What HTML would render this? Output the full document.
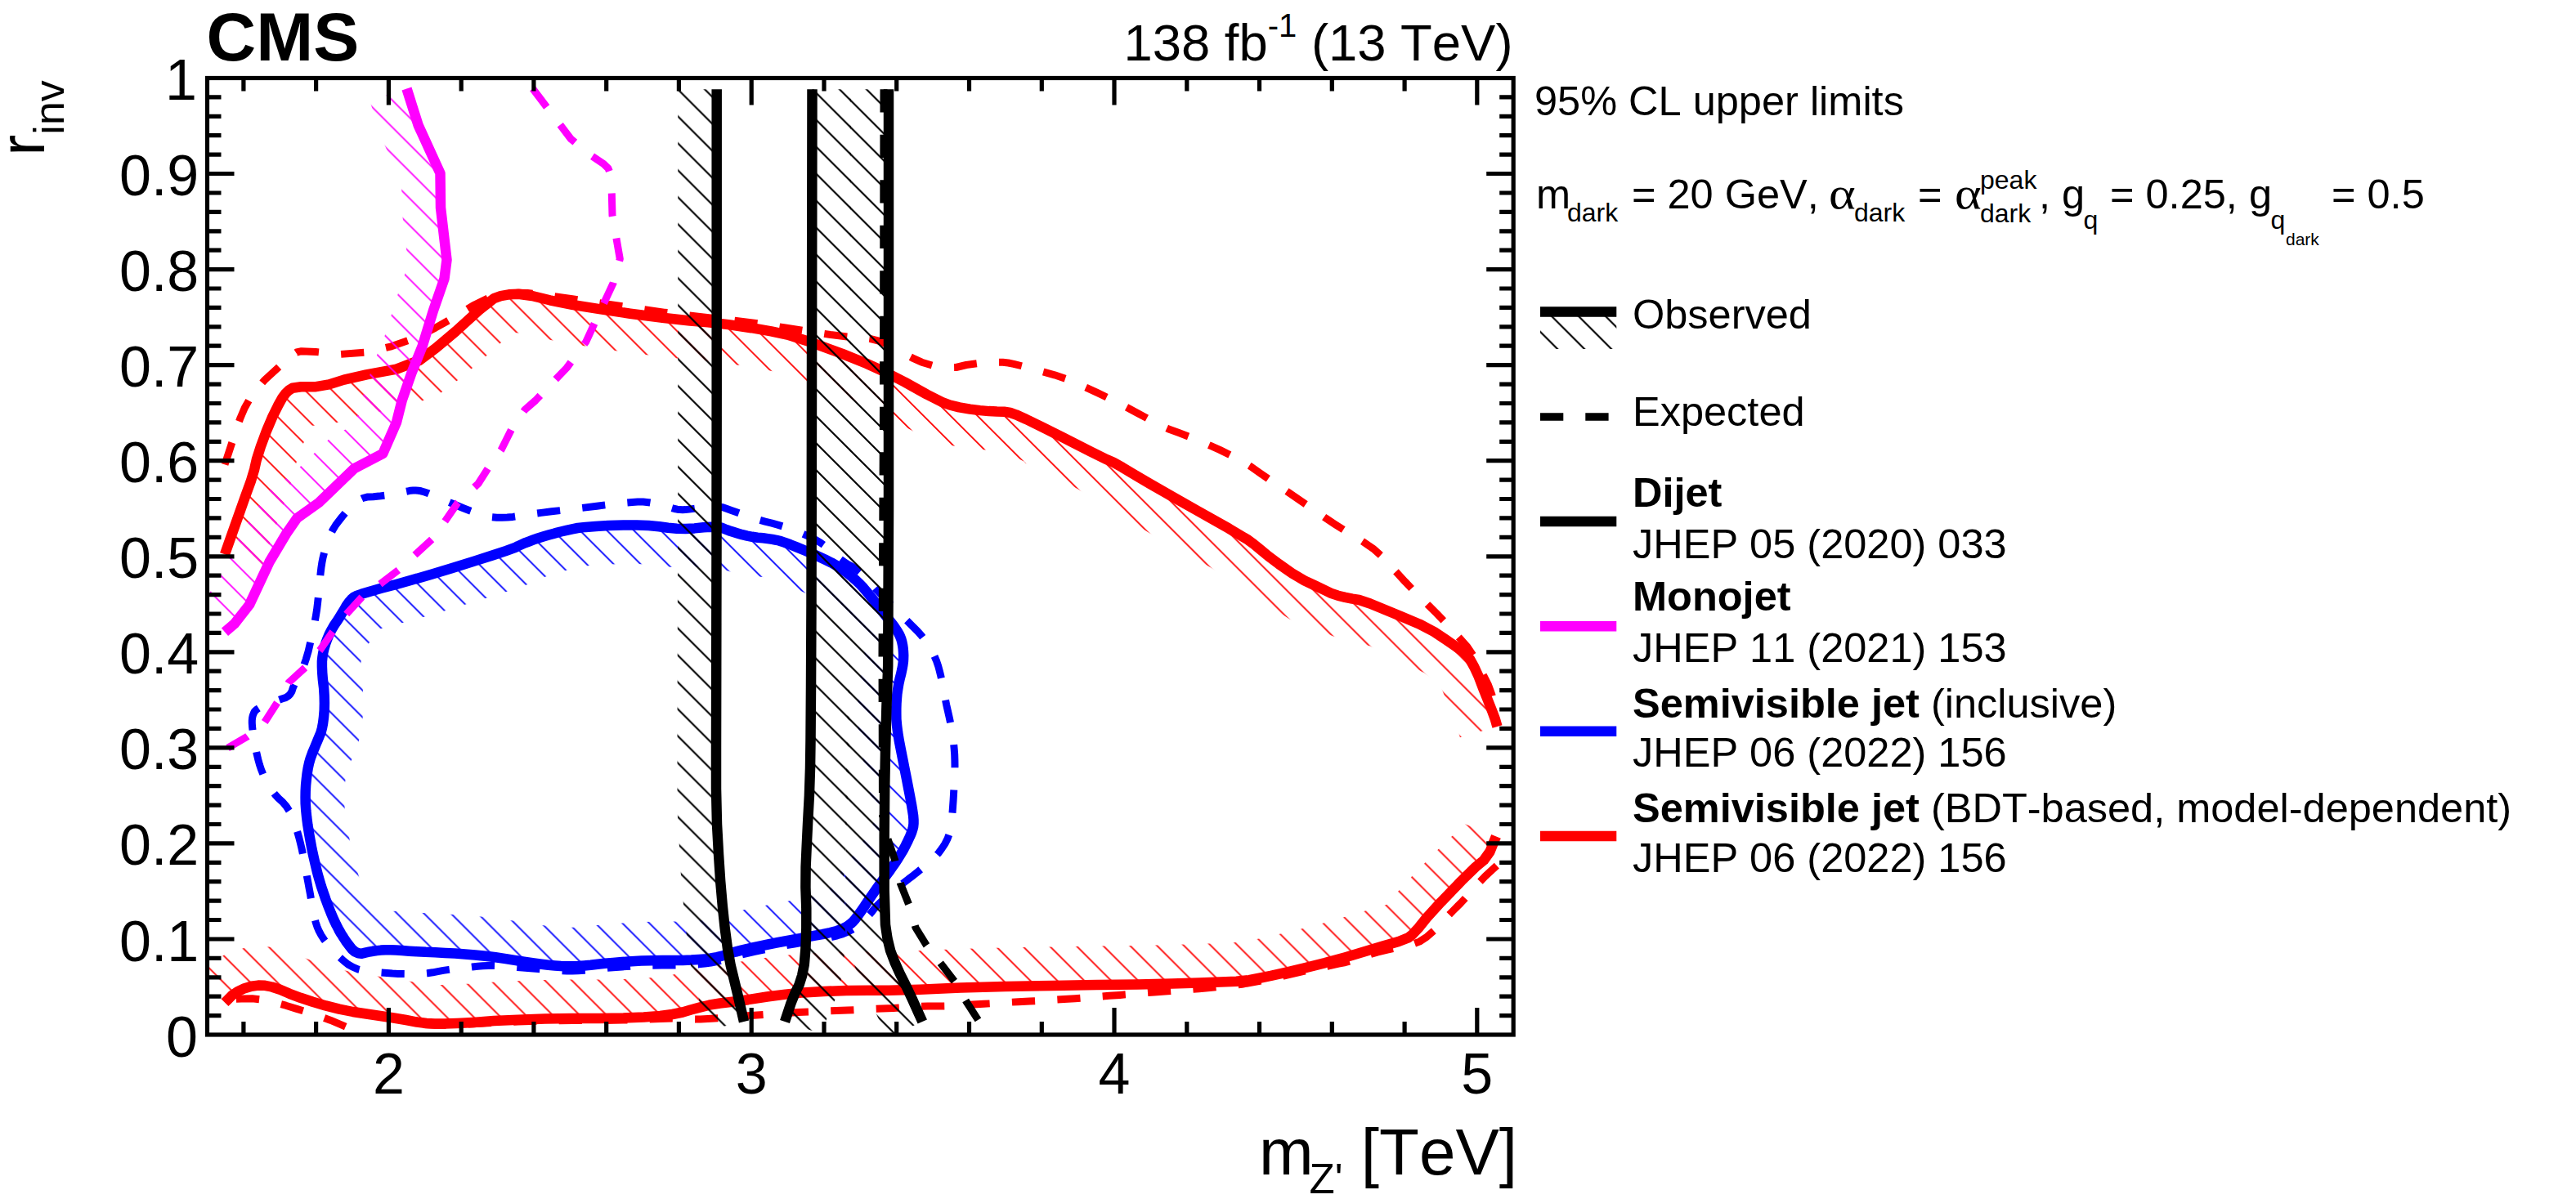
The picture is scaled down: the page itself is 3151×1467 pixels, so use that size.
<!DOCTYPE html>
<html><head><meta charset="utf-8"><title>CMS semivisible jet limits</title>
<style>html,body{margin:0;padding:0;background:#fff}svg{display:block}text{font-family:"Liberation Sans",sans-serif;fill:#000;font-kerning:none;font-variant-ligatures:none}.b{font-weight:bold}.sy{font-family:"Liberation Serif",serif}</style></head><body>
<svg width="3151" height="1467" viewBox="0 0 3151 1467">
<defs>
<pattern id="hk" patternUnits="userSpaceOnUse" x="0" y="5.50" width="32.97" height="32.97"><path d="M-4 -4 L36.97 36.97 M-4 28.97 L4 36.97 M28.97 -4 L36.97 4" stroke="#000" stroke-width="2.15" fill="none"/></pattern>
<pattern id="hr" patternUnits="userSpaceOnUse" x="0" y="5.50" width="32.97" height="32.97"><path d="M-4 -4 L36.97 36.97 M-4 28.97 L4 36.97 M28.97 -4 L36.97 4" stroke="#f00" stroke-width="1.8" fill="none"/></pattern>
<pattern id="hb" patternUnits="userSpaceOnUse" x="0" y="5.50" width="32.97" height="32.97"><path d="M-4 -4 L36.97 36.97 M-4 28.97 L4 36.97 M28.97 -4 L36.97 4" stroke="#00f" stroke-width="1.8" fill="none"/></pattern>
<pattern id="hm" patternUnits="userSpaceOnUse" x="0" y="5.50" width="32.97" height="32.97"><path d="M-4 -4 L36.97 36.97 M-4 28.97 L4 36.97 M28.97 -4 L36.97 4" stroke="#f0f" stroke-width="1.8" fill="none"/></pattern>
<clipPath id="fr"><rect x="253.5" y="95.5" width="1597.7" height="1170.5"/></clipPath>
</defs>
<rect width="3151" height="1467" fill="#fff"/>
<g clip-path="url(#fr)" fill="none" stroke-linejoin="round">
<path d="M433.3 510.5 L457.9 504.9 L497.9 497.6 L536.5 482.8 L562.9 463.0 L588.8 441.1 L616.5 415.9 L626.7 407.9 L628.3 407.6 L632.3 407.3 L641.8 408.7 L662.2 413.7 L691.5 419.5 L726.1 425.2 L764.4 430.7 L806.8 436.2 L839.7 439.8 L861.3 441.5 L884.7 444.2 L911.7 448.1 L934.4 452.1 L951.2 455.6 L976.8 463.7 L1013.1 477.2 L1041.6 488.7 L1061.6 497.8 L1084.3 509.4 L1111.2 524.4 L1132.8 535.4 L1147.7 540.9 L1163.6 544.9 L1179.7 547.6 L1193.7 549.4 L1206.3 550.4 L1217.7 551.1 L1223.9 551.2 L1224.2 551.2 L1225.0 551.5 L1235.1 556.1 L1252.9 564.7 L1253.9 565.2 L1253.3 566.0 L1318.3 598.3 L1405.3 651.7 L1481.2 694.4 L1577.3 757.4 L1631.5 778.7 L1675.9 790.6 L1742.0 823.2 L1760.6 837.1 L1760.9 837.5 L1765.0 846.6 L1770.0 859.5 L1775.6 873.6 L1780.8 886.9 L1783.7 894.8 L1785.9 902.3 L1831.5 889.0 L1830.6 886.0 L1828.9 880.0 L1825.2 870.0 L1819.8 856.2 L1814.2 842.2 L1808.8 828.0 L1803.3 816.1 L1797.9 806.4 L1794.5 802.5 L1795.2 801.5 L1790.6 798.1 L1781.3 791.4 L1776.7 788.0 L1769.2 783.0 L1754.2 773.0 L1746.7 768.0 L1735.9 763.4 L1725.0 758.9 L1714.1 754.3 L1703.3 749.7 L1694.1 746.0 L1685.0 742.2 L1675.9 738.5 L1666.7 734.7 L1662.5 734.0 L1658.3 733.4 L1654.2 732.7 L1645.5 730.9 L1641.0 729.8 L1636.5 728.7 L1628.2 725.8 L1624.3 724.0 L1620.5 722.1 L1616.7 720.3 L1609.7 717.0 L1602.7 713.6 L1595.6 710.3 L1580.4 701.3 L1572.3 695.6 L1564.2 690.0 L1551.2 680.2 L1546.3 676.1 L1541.4 672.1 L1536.6 668.0 L1533.3 665.5 L1530.0 663.1 L1526.8 660.7 L1523.5 658.2 L1503.5 646.8 L1483.4 635.5 L1463.3 624.1 L1443.3 612.7 L1430.8 605.7 L1418.4 598.6 L1405.9 591.5 L1386.6 580.2 L1379.7 576.0 L1372.8 571.8 L1366.0 567.5 L1362.0 565.8 L1358.0 564.0 L1354.0 562.3 L1333.3 552.1 L1316.6 543.7 L1300.0 535.2 L1283.3 526.7 L1283.2 526.8 L1274.0 522.2 L1255.3 513.0 L1242.6 507.3 L1235.9 505.0 L1228.1 503.7 L1219.4 503.6 L1209.6 503.1 L1198.7 502.1 L1186.6 500.6 L1173.4 498.4 L1161.8 495.5 L1151.9 491.8 L1133.6 482.5 L1106.7 467.5 L1082.3 455.0 L1060.3 445.0 L1030.3 432.9 L992.3 418.8 L963.3 409.6 L943.3 405.4 L919.1 401.2 L890.9 397.1 L865.9 394.2 L844.1 392.5 L812.5 389.0 L770.8 383.7 L733.3 378.2 L700.0 372.8 L672.5 367.3 L650.8 362.0 L634.2 359.7 L622.5 360.3 L612.5 362.2 L604.2 365.2 L585.8 379.6 L557.5 405.4 L533.3 425.8 L513.3 440.8 L485.0 451.7 L448.3 458.3 L420.8 464.6 L402.5 470.4 L385.0 473.3 L368.3 473.3 L357.8 474.7 L353.2 477.6 L349.1 481.7 L345.2 487.0 L340.0 496.4 L333.3 510.0 L326.2 526.7 L318.8 546.7 L313.8 562.5 L311.2 574.2 L306.7 589.2 L300.0 607.5 L291.3 632.1 L280.4 662.9 L275.0 678.3 L319.8 694.1 L325.2 678.7 L336.0 648.0 L344.7 623.6 L351.8 604.2 L357.3 586.1 L359.7 574.7 L363.7 562.2 L370.4 544.3 L376.5 529.7 L380.9 520.8 L388.9 520.8 L413.6 516.7 Z" fill="url(#hr)" fill-rule="evenodd" stroke="none"/>
<path d="M277.9 1223.8 L283.8 1217.9 L290.8 1213.1 L299.2 1209.2 L307.5 1206.7 L315.8 1205.6 L324.2 1205.8 L332.5 1207.5 L342.5 1210.8 L354.2 1215.8 L367.5 1220.8 L382.5 1225.8 L398.3 1230.4 L415.0 1234.6 L431.7 1238.0 L448.3 1240.5 L465.0 1243.0 L481.7 1245.5 L496.7 1248.0 L510.0 1250.5 L521.7 1252.0 L531.7 1252.5 L544.2 1252.5 L559.2 1252.0 L579.2 1250.9 L604.2 1249.1 L633.4 1247.7 L666.6 1246.6 L700.0 1246.0 L733.3 1246.0 L762.5 1245.5 L787.5 1244.5 L807.5 1243.0 L822.5 1241.0 L835.0 1238.5 L845.0 1235.5 L855.8 1232.6 L867.5 1229.7 L880.8 1227.5 L895.8 1225.8 L915.0 1223.2 L938.3 1219.5 L960.8 1216.6 L982.5 1214.4 L1007.3 1212.9 L1035.3 1212.1 L1062.0 1211.7 L1087.3 1211.7 L1125.0 1210.7 L1175.0 1208.5 L1229.2 1207.0 L1287.5 1206.0 L1341.7 1205.1 L1391.7 1204.4 L1433.4 1203.5 L1466.6 1202.5 L1493.0 1201.5 L1512.3 1200.7 L1527.8 1199.2 L1539.2 1197.0 L1554.6 1193.9 L1573.7 1189.6 L1595.8 1184.4 L1620.8 1178.1 L1645.8 1171.2 L1670.8 1163.8 L1692.5 1157.3 L1710.8 1152.0 L1722.5 1147.4 L1727.5 1143.6 L1735.0 1135.5 L1745.0 1123.0 L1762.5 1103.8 L1787.5 1077.9 L1805.0 1060.8 L1815.0 1052.5 L1822.5 1042.0 L1827.5 1029.5 L1830.0 1023.3 L1785.9 1005.7 L1780.6 1019.0 L1779.9 1019.9 L1773.1 1025.6 L1753.8 1044.4 L1727.9 1071.2 L1708.9 1092.1 L1698.9 1104.5 L1697.3 1106.3 L1695.5 1107.0 L1679.1 1111.8 L1657.2 1118.2 L1632.7 1125.6 L1608.7 1132.2 L1584.5 1138.2 L1563.1 1143.3 L1544.6 1147.4 L1530.2 1150.4 L1521.2 1152.1 L1508.9 1153.3 L1491.0 1154.1 L1465.1 1155.0 L1432.1 1156.0 L1390.8 1156.9 L1341.0 1157.6 L1286.8 1158.5 L1228.1 1159.5 L1173.3 1161.1 L1123.3 1163.2 L1086.7 1164.2 L1061.6 1164.2 L1034.3 1164.6 L1005.2 1165.4 L978.6 1167.0 L955.4 1169.4 L931.6 1172.5 L908.1 1176.2 L890.0 1178.7 L874.2 1180.4 L857.9 1183.2 L844.0 1186.6 L832.0 1189.8 L823.5 1192.4 L814.7 1194.1 L802.6 1195.7 L784.8 1197.1 L761.1 1198.0 L732.9 1198.5 L699.6 1198.5 L665.4 1199.1 L631.4 1200.3 L601.4 1201.7 L576.3 1203.4 L557.1 1204.5 L543.4 1205.0 L532.9 1205.0 L525.9 1204.6 L517.4 1203.5 L505.0 1201.2 L489.1 1198.5 L472.1 1196.0 L455.4 1193.5 L439.8 1191.1 L425.5 1188.3 L410.8 1184.6 L396.6 1180.4 L383.4 1176.0 L371.9 1171.7 L359.4 1166.4 L344.7 1161.5 L329.5 1158.5 L313.3 1158.0 L297.3 1160.2 L282.2 1164.7 L267.3 1171.7 L253.5 1181.1 L253.5 1205.2 L275.0 1226.7 Z" fill="url(#hr)" fill-rule="evenodd" stroke="none"/>
<path d="M275.0 568.3 L277.1 562.0 L281.2 549.5 L285.4 536.6 L289.6 523.4 L294.2 510.9 L299.2 499.2 L305.8 487.5 L314.2 475.8 L323.7 465.0 L334.6 455.0 L345.0 445.4 L355.0 436.3 L362.9 431.0 L368.8 429.7 L386.3 430.5 L415.4 433.5 L446.2 431.2 L478.8 423.8 L507.5 413.8 L532.5 401.2 L556.2 387.9 L578.8 373.8 L596.7 364.9 L610.0 361.3 L622.5 359.1 L634.2 358.2 L645.2 358.5 L655.8 359.8 L666.6 361.2 L677.7 362.6 L700.0 365.8 L733.3 370.8 L770.8 376.2 L812.2 382.1 L853.9 387.2 L895.8 391.8 L930.8 396.2 L958.9 400.8 L987.2 405.2 L1015.8 409.5 L1037.5 412.1 L1052.5 412.9 L1065.0 414.6 L1075.0 417.1 L1087.5 422.5 L1102.5 430.8 L1115.8 437.8 L1127.5 443.2 L1140.8 447.2 L1155.8 449.8 L1169.5 449.5 L1182.0 446.5 L1195.4 444.6 L1209.6 443.7 L1220.0 443.3 L1226.7 443.3 L1233.3 444.0 L1240.0 445.3 L1250.0 447.8 L1263.3 451.5 L1276.7 455.2 L1290.0 458.8 L1303.4 463.4 L1316.6 468.9 L1329.5 474.6 L1342.0 480.4 L1354.1 486.2 L1365.9 492.1 L1378.0 498.3 L1390.5 505.0 L1403.4 511.9 L1416.6 519.1 L1429.5 525.0 L1442.0 529.5 L1455.0 534.5 L1468.3 540.0 L1480.8 545.4 L1492.5 550.6 L1505.0 556.8 L1518.3 563.8 L1530.4 571.1 L1541.3 578.9 L1552.5 586.6 L1564.2 594.4 L1575.4 602.0 L1586.3 609.5 L1598.0 617.6 L1610.5 626.4 L1622.1 634.3 L1632.9 641.4 L1644.5 648.8 L1657.0 656.2 L1668.7 663.8 L1679.6 671.2 L1690.0 680.4 L1700.0 691.3 L1709.6 701.7 L1718.7 711.7 L1728.3 721.7 L1738.3 731.7 L1747.9 741.3 L1757.1 750.4 L1766.7 760.4 L1776.7 771.3 L1785.9 781.3 L1794.1 790.4 L1802.0 802.0 L1809.3 816.0 L1815.5 828.0 L1820.5 838.0 L1824.8 849.8 L1828.2 863.2 L1830.0 870.0" stroke="#f00" stroke-width="9.0" stroke-dasharray="28.2 27.3" stroke-dashoffset="0.0"/>
<path d="M289.0 1222.2 L295.5 1222.1 L308.5 1221.8 L322.1 1223.4 L336.2 1226.6 L349.6 1230.2 L362.1 1234.1 L375.4 1238.2 L389.6 1242.8 L404.0 1248.2 L418.7 1254.4 L426.0 1257.6" stroke="#f00" stroke-width="9.0" stroke-dasharray="28.2 27.3" stroke-dashoffset="0.0"/>
<path d="M517.3 1253.5 L522.1 1253.8 L531.9 1254.2 L544.2 1254.2 L559.2 1253.8 L579.2 1252.8 L604.2 1251.2 L633.4 1250.0 L666.6 1249.0 L700.0 1248.5 L733.3 1248.5 L762.5 1248.1 L787.5 1247.4 L807.5 1246.6 L822.5 1245.9 L835.0 1246.0 L845.0 1246.8 L856.7 1247.0 L870.0 1246.3 L883.4 1245.3 L896.6 1244.0 L910.8 1242.9 L925.8 1242.1 L940.8 1241.1 L955.8 1239.9 L976.6 1238.6 L1003.4 1237.4 L1023.4 1236.5 L1036.6 1236.0 L1050.4 1235.4 L1064.6 1234.6 L1078.8 1234.0 L1092.9 1233.5 L1107.1 1232.6 L1121.2 1231.4 L1135.0 1230.9 L1148.3 1231.1 L1162.1 1230.8 L1176.2 1229.8 L1190.0 1229.0 L1203.3 1228.3 L1217.1 1227.5 L1231.2 1226.5 L1245.4 1225.7 L1259.6 1225.0 L1273.8 1224.3 L1287.9 1223.4 L1301.7 1222.6 L1315.0 1221.7 L1328.8 1220.6 L1342.9 1219.4 L1356.7 1218.3 L1370.0 1217.4 L1383.8 1216.3 L1397.9 1215.0 L1411.7 1213.9 L1425.0 1213.1 L1438.8 1212.1 L1452.9 1210.9 L1466.7 1209.7 L1480.0 1208.6 L1497.5 1206.8 L1519.2 1204.2 L1543.3 1200.0 L1570.0 1194.0 L1595.8 1188.2 L1620.8 1182.8 L1637.5 1179.2 L1645.8 1177.5 L1657.1 1174.2 L1671.2 1169.2 L1684.5 1165.2 L1697.0 1162.2 L1710.4 1159.3 L1724.6 1156.4 L1736.3 1152.1 L1745.4 1146.2 L1755.4 1137.5 L1766.3 1125.8 L1776.7 1115.0 L1786.7 1105.0 L1796.7 1094.2 L1806.7 1082.5 L1816.7 1072.1 L1826.7 1062.9 L1831.7 1058.3" stroke="#f00" stroke-width="9.0" stroke-dasharray="28.2 27.3" stroke-dashoffset="0.0"/>
<path d="M275.0 678.3 L280.4 662.9 L291.3 632.1 L300.0 607.5 L306.7 589.2 L311.2 574.2 L313.8 562.5 L318.8 546.7 L326.2 526.7 L333.3 510.0 L340.0 496.4 L345.2 487.0 L349.1 481.7 L353.2 477.6 L357.8 474.7 L368.3 473.3 L385.0 473.3 L402.5 470.4 L420.8 464.6 L448.3 458.3 L485.0 451.7 L513.3 440.8 L533.3 425.8 L557.5 405.4 L585.8 379.6 L604.2 365.2 L612.5 362.2 L622.5 360.3 L634.2 359.7 L650.8 362.0 L672.5 367.3 L700.0 372.8 L733.3 378.2 L770.8 383.7 L812.5 389.0 L844.1 392.5 L865.9 394.2 L890.9 397.1 L919.1 401.2 L943.3 405.4 L963.3 409.6 L992.3 418.8 L1030.3 432.9 L1060.3 445.0 L1082.3 455.0 L1106.7 467.5 L1133.6 482.5 L1151.9 491.8 L1161.8 495.5 L1173.4 498.4 L1186.6 500.6 L1198.7 502.1 L1209.6 503.1 L1219.4 503.6 L1228.1 503.7 L1235.9 505.0 L1242.6 507.3 L1255.3 513.0 L1274.0 522.2 L1300.0 535.2 L1333.3 552.1 L1354.0 562.3 L1362.0 565.8 L1372.8 571.8 L1386.6 580.2 L1405.9 591.5 L1430.8 605.7 L1463.3 624.1 L1503.5 646.8 L1526.8 660.7 L1533.3 665.5 L1541.4 672.1 L1551.2 680.2 L1564.2 690.0 L1580.4 701.3 L1595.6 710.3 L1609.7 717.0 L1620.5 722.1 L1628.2 725.8 L1636.5 728.7 L1645.5 730.9 L1654.2 732.7 L1662.5 734.0 L1675.9 738.5 L1694.1 746.0 L1714.1 754.3 L1735.9 763.4 L1754.2 773.0 L1769.2 783.0 L1781.3 791.4 L1790.6 798.1 L1797.9 806.4 L1803.3 816.1 L1808.8 828.0 L1814.2 842.2 L1819.8 856.2 L1825.2 870.0 L1828.9 880.0 L1830.6 886.0 L1831.5 889.0" stroke="#f00" stroke-width="12.5"/>
<path d="M275.0 1226.7 L277.9 1223.8 L283.8 1217.9 L290.8 1213.1 L299.2 1209.2 L307.5 1206.7 L315.8 1205.6 L324.2 1205.8 L332.5 1207.5 L342.5 1210.8 L354.2 1215.8 L367.5 1220.8 L382.5 1225.8 L398.3 1230.4 L415.0 1234.6 L431.7 1238.0 L448.3 1240.5 L465.0 1243.0 L481.7 1245.5 L496.7 1248.0 L510.0 1250.5 L521.7 1252.0 L531.7 1252.5 L544.2 1252.5 L559.2 1252.0 L579.2 1250.9 L604.2 1249.1 L633.4 1247.7 L666.6 1246.6 L700.0 1246.0 L733.3 1246.0 L762.5 1245.5 L787.5 1244.5 L807.5 1243.0 L822.5 1241.0 L835.0 1238.5 L845.0 1235.5 L855.8 1232.6 L867.5 1229.7 L880.8 1227.5 L895.8 1225.8 L915.0 1223.2 L938.3 1219.5 L960.8 1216.6 L982.5 1214.4 L1007.3 1212.9 L1035.3 1212.1 L1062.0 1211.7 L1087.3 1211.7 L1125.0 1210.7 L1175.0 1208.5 L1229.2 1207.0 L1287.5 1206.0 L1341.7 1205.1 L1391.7 1204.4 L1433.4 1203.5 L1466.6 1202.5 L1493.0 1201.5 L1512.3 1200.7 L1527.8 1199.2 L1539.2 1197.0 L1554.6 1193.9 L1573.7 1189.6 L1595.8 1184.4 L1620.8 1178.1 L1645.8 1171.2 L1670.8 1163.8 L1692.5 1157.3 L1710.8 1152.0 L1722.5 1147.4 L1727.5 1143.6 L1735.0 1135.5 L1745.0 1123.0 L1762.5 1103.8 L1787.5 1077.9 L1805.0 1060.8 L1815.0 1052.5 L1822.5 1042.0 L1827.5 1029.5 L1830.0 1023.3" stroke="#f00" stroke-width="12.5"/>
<path d="M374.3 991.7 L375.2 1000.4 L376.4 1009.6 L377.9 1018.9 L379.6 1028.5 L381.4 1038.3 L383.6 1048.3 L385.8 1057.9 L388.0 1067.1 L390.4 1075.8 L392.9 1084.2 L395.7 1092.5 L398.6 1100.9 L401.7 1109.2 L405.0 1117.5 L408.2 1125.0 L411.4 1131.7 L414.4 1137.5 L417.3 1142.5 L420.4 1147.4 L423.6 1152.2 L427.1 1156.9 L430.6 1161.4 L434.4 1164.6 L438.3 1166.3 L442.5 1166.7 L446.8 1165.6 L451.3 1164.7 L456.0 1163.8 L460.8 1163.1 L465.8 1162.6 L471.4 1162.3 L477.7 1162.3 L484.6 1162.6 L492.1 1163.1 L500.6 1163.7 L510.2 1164.2 L520.8 1164.8 L532.5 1165.2 L544.4 1165.9 L556.5 1166.6 L568.8 1167.5 L581.2 1168.5 L593.8 1169.8 L606.2 1171.3 L618.8 1173.1 L631.2 1175.2 L642.7 1177.0 L653.1 1178.5 L662.5 1179.8 L670.8 1180.8 L678.7 1181.5 L686.2 1182.0 L693.3 1182.3 L700.0 1182.3 L707.1 1182.0 L714.6 1181.5 L722.5 1180.8 L730.8 1179.8 L740.0 1178.8 L750.0 1177.9 L760.8 1177.1 L772.5 1176.2 L784.6 1175.6 L797.1 1175.2 L810.0 1175.0 L823.3 1175.0 L835.2 1174.9 L845.6 1174.6 L854.5 1174.1 L862.0 1173.6 L869.5 1172.5 L877.0 1171.1 L884.5 1169.2 L892.0 1166.8 L899.5 1164.6 L907.0 1162.6 L914.5 1160.8 L922.0 1159.2 L930.4 1157.4 L939.6 1155.5 L949.6 1153.5 L960.4 1151.5 L971.5 1149.4 L982.7 1147.3 L994.2 1145.2 L1005.8 1143.1 L1015.6 1141.0 L1023.5 1139.0 L1029.6 1136.9 L1033.7 1134.8 L1037.5 1132.5 L1040.8 1130.0 L1043.8 1127.3 L1046.2 1124.4 L1049.4 1120.3 L1053.1 1115.1 L1057.5 1108.8 L1062.5 1101.2 L1067.5 1094.0 L1072.5 1086.9 L1077.5 1080.0 L1082.5 1073.3 L1087.1 1067.1 L1091.2 1061.2 L1095.0 1055.8 L1098.3 1050.8 L1101.5 1045.6 L1104.7 1040.2 L1107.7 1034.6 L1110.6 1028.7 L1113.0 1023.5 L1114.9 1019.0 L1116.2 1015.0 L1117.1 1011.7 L1117.5 1007.7 L1117.5 1003.1 L1117.1 997.9 L1116.2 992.1 L1115.0 984.6 L1113.3 975.4 L1111.2 964.5 L1108.8 952.0 L1106.4 940.0 L1104.1 928.3 L1101.9 917.1 L1099.8 906.2 L1098.2 896.5 L1097.1 887.7 L1096.4 880.0 L1096.3 873.3 L1096.3 866.8 L1096.5 860.6 L1096.9 854.6 L1097.4 848.7 L1098.3 842.8 L1099.3 836.8 L1100.6 830.6 L1102.2 824.4 L1103.4 818.8 L1104.3 813.8 L1104.9 809.4 L1105.1 805.6 L1105.2 801.8 L1105.0 797.8 L1104.7 793.6 L1104.1 789.4 L1103.3 785.4 L1102.2 781.6 L1100.8 778.1 L1099.2 774.9 L1097.1 771.4 L1094.6 767.7 L1091.7 763.7 L1088.3 759.6 L1084.8 755.1 L1081.0 750.3 L1077.1 745.2 L1072.9 739.8 L1068.8 734.5 L1064.6 729.4 L1060.4 724.3 L1056.3 719.4 L1051.7 714.5 L1046.7 709.7 L1041.3 705.0 L1035.4 700.3 L1029.4 696.0 L1023.2 692.0 L1016.7 688.3 L1010.0 685.0 L1002.5 681.5 L994.2 677.7 L985.0 673.7 L975.0 669.6 L966.5 666.2 L959.4 663.6 L953.7 661.8 L949.6 660.8 L944.8 659.9 L939.4 659.1 L933.3 658.3 L926.7 657.7 L920.2 656.8 L914.0 655.6 L907.9 654.2 L902.1 652.5 L896.6 650.8 L891.6 649.2 L887.1 647.5 L882.9 645.8 L877.1 644.9 L869.6 644.7 L860.4 645.2 L849.6 646.4 L838.7 646.9 L827.9 646.8 L817.1 645.8 L806.2 644.2 L793.5 643.1 L779.0 642.5 L762.5 642.6 L744.2 643.1 L728.8 643.9 L716.3 644.9 L706.7 646.0 L700.0 647.3 L693.1 648.8 L686.0 650.5 L678.8 652.4 L671.2 654.6 L664.4 656.6 L658.1 658.5 L652.5 660.4 L647.5 662.3 L642.7 664.1 L638.1 666.1 L633.7 668.1 L629.6 670.2 L619.3 673.9 L603.1 679.3 L580.8 686.4 L552.5 695.2 L526.9 702.9 L504.0 709.6 L483.8 715.2 L466.2 719.8 L452.4 723.7 L442.2 726.8 L435.6 729.2 L432.7 730.8 L429.8 733.3 L426.9 736.6 L423.9 740.8 L421.1 745.8 L418.0 750.8 L414.9 755.8 L411.7 760.8 L408.3 765.8 L405.3 771.0 L402.6 776.4 L400.2 782.1 L398.1 787.9 L396.4 793.6 L395.2 799.0 L394.4 804.2 L393.9 809.2 L393.9 815.5 L394.2 823.0 L394.9 831.7 L396.1 841.7 L396.7 851.3 L396.9 860.4 L396.7 869.2 L396.0 877.5 L395.1 884.8 L393.9 891.0 L392.5 896.3 L390.8 900.4 L388.9 905.0 L386.8 910.0 L384.6 915.4 L382.1 921.3 L379.9 927.3 L378.1 933.5 L376.7 940.0 L375.6 946.7 L374.8 953.6 L374.1 960.7 L373.7 968.0 L373.6 975.5 L373.7 983.4 ZM421.5 964.0 L422.0 958.6 L422.6 953.4 L423.4 948.9 L424.2 945.2 L425.2 941.8 L426.3 938.6 L428.2 934.1 L430.6 928.4 L432.8 923.2 L434.8 918.3 L437.6 911.4 L440.2 901.7 L442.0 892.2 L443.3 882.4 L444.1 871.7 L444.4 860.5 L444.2 849.1 L443.4 837.5 L442.2 827.2 L441.6 819.9 L441.4 814.5 L441.4 811.4 L441.5 810.0 L441.8 808.1 L442.4 805.6 L443.3 802.6 L444.5 799.3 L445.7 796.4 L447.1 793.6 L448.6 791.0 L451.3 786.9 L455.0 781.3 L458.5 775.6 L461.6 770.5 L465.7 769.3 L478.7 765.7 L496.2 761.0 L517.0 755.2 L540.4 748.4 L566.3 740.6 L595.0 731.8 L617.8 724.5 L635.0 718.8 L648.4 713.9 L654.2 711.0 L657.3 709.5 L660.7 708.1 L664.3 706.7 L668.2 705.3 L672.8 703.7 L678.2 702.0 L684.4 700.2 L691.2 698.3 L697.6 696.6 L703.8 695.1 L709.8 693.8 L714.1 692.9 L720.9 692.1 L731.7 691.3 L746.1 690.6 L763.3 690.1 L778.1 690.0 L790.6 690.5 L800.6 691.4 L811.5 693.0 L825.4 694.2 L839.4 694.5 L853.4 693.8 L864.5 692.5 L870.3 692.2 L871.1 692.2 L875.9 694.0 L882.1 696.1 L888.5 698.0 L896.0 700.2 L904.2 702.1 L912.6 703.7 L921.1 704.9 L928.1 705.5 L932.9 706.1 L936.7 706.7 L939.6 707.3 L941.0 707.6 L944.0 708.6 L949.6 710.6 L957.1 713.6 L966.4 717.5 L975.0 721.2 L982.6 724.6 L989.3 727.7 L994.4 730.3 L998.6 732.7 L1002.7 735.3 L1006.7 738.2 L1010.7 741.4 L1014.6 744.7 L1017.9 748.0 L1020.8 751.1 L1024.0 754.8 L1027.8 759.4 L1031.6 764.1 L1035.4 769.0 L1039.5 774.2 L1043.6 779.5 L1047.5 784.5 L1051.2 789.2 L1054.1 792.8 L1055.8 795.1 L1057.0 796.8 L1057.3 797.3 L1057.4 798.7 L1057.6 800.6 L1057.7 802.3 L1057.6 803.7 L1057.6 804.7 L1057.4 806.4 L1056.8 809.5 L1055.9 813.6 L1054.3 820.0 L1052.7 827.7 L1051.3 835.4 L1050.3 843.2 L1049.5 850.7 L1049.0 858.3 L1048.8 866.0 L1048.8 873.9 L1049.0 882.6 L1049.8 892.7 L1051.2 903.3 L1053.0 914.5 L1055.2 926.1 L1057.4 937.4 L1059.8 949.2 L1062.2 961.3 L1064.6 973.7 L1066.6 984.1 L1068.2 992.7 L1069.3 999.3 L1069.8 1003.1 L1069.9 1003.6 L1069.5 1004.6 L1067.8 1008.1 L1065.5 1012.6 L1063.2 1017.0 L1060.8 1021.2 L1058.3 1025.1 L1055.7 1029.1 L1052.4 1033.9 L1048.6 1039.2 L1044.3 1045.0 L1039.3 1051.8 L1033.9 1059.2 L1028.5 1066.8 L1023.1 1074.6 L1018.2 1082.1 L1014.3 1087.8 L1011.3 1092.0 L1010.2 1093.3 L1009.8 1093.5 L1004.6 1094.8 L996.7 1096.5 L985.8 1098.4 L974.1 1100.6 L962.7 1102.7 L951.5 1104.8 L940.4 1106.9 L930.2 1109.0 L920.7 1110.9 L912.0 1112.7 L903.8 1114.5 L895.3 1116.6 L886.8 1118.9 L878.3 1121.3 L871.6 1123.5 L866.6 1124.7 L861.8 1125.7 L857.0 1126.3 L851.6 1126.7 L843.8 1127.1 L834.2 1127.4 L823.0 1127.5 L809.6 1127.5 L795.9 1127.7 L782.6 1128.2 L769.6 1128.8 L757.2 1129.7 L745.9 1130.6 L735.4 1131.6 L725.5 1132.6 L717.4 1133.6 L710.8 1134.2 L704.7 1134.6 L699.2 1134.8 L694.1 1134.8 L688.6 1134.6 L682.5 1134.2 L675.9 1133.6 L668.5 1132.7 L659.8 1131.5 L649.9 1130.0 L638.8 1128.3 L626.0 1126.2 L612.5 1124.2 L599.0 1122.6 L585.5 1121.2 L572.3 1120.1 L559.6 1119.2 L547.1 1118.5 L534.8 1117.8 L523.0 1117.3 L512.7 1116.8 L503.5 1116.3 L495.4 1115.8 L487.4 1115.1 L478.7 1114.8 L470.2 1114.8 L461.9 1115.2 L456.7 1115.8 L456.0 1114.6 L454.0 1110.6 L451.6 1105.5 L448.9 1099.3 L446.0 1092.0 L443.2 1084.7 L440.7 1077.4 L438.3 1070.0 L436.1 1062.7 L434.0 1055.0 L431.9 1046.8 L429.9 1038.1 L428.0 1028.9 L426.3 1019.9 L424.8 1011.2 L423.4 1002.7 L422.3 994.8 L421.6 987.7 L421.2 981.3 L421.1 975.5 L421.2 969.8 Z" fill="url(#hb)" fill-rule="evenodd" stroke="none"/>
<path d="M308.3 884.8 L308.3 881.6 L308.6 878.5 L309.2 875.6 L310.2 873.0 L311.4 870.5 L314.0 868.0 L318.0 865.5 L323.3 863.0 L330.0 860.5 L335.9 858.3 L341.1 856.4 L345.6 854.8 L349.4 853.6 L352.5 851.7 L355.0 849.2 L356.9 846.1 L358.1 842.3 L359.9 838.1 L362.2 833.2 L365.0 827.9 L368.3 822.1 L371.4 815.0 L374.3 806.6 L377.1 797.1 L379.6 786.2 L381.7 776.5 L383.6 767.7 L385.2 760.0 L386.4 753.3 L387.6 745.8 L388.6 737.5 L389.6 728.3 L390.4 718.3 L391.3 709.3 L392.1 701.4 L392.9 694.6 L393.8 688.7 L395.0 682.5 L396.7 675.8 L398.8 668.8 L401.2 661.2 L404.1 654.4 L407.2 648.1 L410.6 642.5 L414.4 637.5 L418.4 632.4 L422.8 627.2 L427.5 621.9 L432.5 616.4 L437.9 612.3 L443.8 609.5 L450.0 607.9 L456.7 607.7 L463.5 607.1 L470.3 606.3 L477.3 605.2 L484.4 603.8 L490.4 602.6 L495.4 601.6 L499.4 600.8 L502.3 600.2 L505.3 599.9 L508.5 599.9 L511.7 600.2 L515.0 600.8 L519.2 602.0 L524.2 603.7 L530.0 606.1 L536.7 608.9 L543.2 611.8 L549.4 614.4 L555.4 617.0 L561.3 619.5 L567.4 622.0 L573.9 624.5 L580.6 627.0 L587.7 629.5 L594.6 631.4 L601.2 632.7 L607.7 633.3 L613.9 633.3 L620.5 633.0 L627.4 632.4 L634.5 631.4 L642.0 630.2 L651.2 628.8 L662.1 627.4 L674.6 625.8 L688.7 624.2 L702.7 622.5 L716.5 620.9 L730.0 619.2 L743.3 617.5 L755.0 616.1 L765.0 615.1 L773.3 614.4 L780.0 613.9 L786.7 614.0 L793.3 614.7 L800.0 615.8 L806.7 617.5 L812.5 619.0 L817.5 620.3 L821.7 621.5 L825.0 622.5 L828.3 623.2 L831.7 623.6 L835.0 623.7 L838.3 623.6 L842.9 623.1 L848.7 622.4 L855.8 621.4 L864.2 620.2 L871.7 619.7 L878.4 619.9 L884.2 620.8 L889.2 622.5 L894.6 624.4 L900.4 626.5 L906.7 628.8 L913.3 631.2 L920.4 633.6 L927.9 635.9 L935.8 638.1 L944.2 640.2 L952.1 642.4 L959.6 644.7 L966.7 647.0 L973.3 649.5 L979.8 652.2 L986.0 654.9 L992.1 657.7 L997.9 660.6 L1003.8 664.2 L1009.6 668.3 L1015.4 673.1 L1021.3 678.6 L1026.8 683.3 L1032.2 687.2 L1037.2 690.5 L1042.1 693.0 L1047.2 696.5 L1052.6 701.1 L1058.3 706.7 L1064.3 713.3 L1071.1 720.6 L1078.7 728.5 L1087.1 737.1 L1096.2 746.2 L1104.4 754.4 L1111.5 761.5 L1117.5 767.5 L1122.5 772.5 L1127.2 777.8 L1131.6 783.4 L1135.6 789.4 L1139.4 795.6 L1142.6 801.9 L1145.3 808.1 L1147.5 814.4 L1149.2 820.6 L1150.8 827.1 L1152.2 833.7 L1153.6 840.6 L1154.8 847.7 L1156.2 854.8 L1157.6 861.9 L1159.2 869.0 L1160.8 876.0 L1162.3 883.0 L1163.6 889.9 L1164.8 896.7 L1165.8 903.3 L1166.6 910.0 L1167.2 916.6 L1167.7 923.3 L1167.9 930.0 L1168.0 936.8 L1167.9 943.6 L1167.7 950.6 L1167.3 957.7 L1166.9 964.8 L1166.5 971.9 L1166.1 979.0 L1165.6 986.0 L1165.1 993.0 L1164.5 999.9 L1163.8 1006.7 L1162.9 1013.3 L1161.4 1019.8 L1159.1 1026.0 L1156.1 1032.1 L1152.3 1037.9 L1148.2 1043.5 L1143.6 1048.7 L1138.6 1053.6 L1133.1 1058.1 L1127.7 1062.6 L1122.3 1067.0 L1116.9 1071.3 L1111.4 1075.4 L1105.5 1080.1 L1099.0 1085.3 L1092.0 1091.1 L1084.5 1097.3 L1078.3 1102.8 L1073.3 1107.6 L1069.5 1111.7 L1067.0 1115.0 L1064.0 1118.6 L1060.5 1122.4 L1056.4 1126.4 L1051.9 1130.6 L1047.1 1134.4 L1042.0 1137.6 L1036.8 1140.4 L1031.2 1142.6 L1024.2 1144.8 L1015.7 1146.9 L1005.6 1149.0 L994.1 1151.0 L982.7 1153.0 L971.5 1155.0 L960.4 1157.0 L949.6 1159.0 L939.6 1160.9 L930.4 1162.8 L922.0 1164.6 L914.5 1166.4 L907.0 1168.2 L899.5 1170.2 L892.0 1172.4 L884.5 1174.6 L877.0 1176.5 L869.5 1178.0 L862.0 1179.1 L854.5 1179.9 L845.6 1180.4 L835.2 1180.8 L823.3 1181.0 L810.0 1181.0 L797.1 1181.2 L784.6 1181.6 L772.5 1182.1 L760.8 1182.9 L750.0 1183.7 L740.0 1184.6 L730.8 1185.5 L722.5 1186.5 L714.6 1187.2 L707.1 1187.8 L700.0 1188.0 L693.3 1188.0 L686.5 1187.8 L679.7 1187.4 L672.7 1186.9 L665.6 1186.1 L658.7 1185.5 L652.1 1184.9 L645.6 1184.4 L639.4 1183.9 L632.8 1183.5 L625.9 1182.9 L618.8 1182.3 L611.2 1181.7 L604.1 1181.4 L597.2 1181.4 L590.6 1181.7 L584.4 1182.3 L577.8 1183.0 L570.9 1183.8 L563.8 1184.6 L556.2 1185.4 L549.1 1186.4 L542.2 1187.4 L535.6 1188.6 L529.4 1189.8 L522.8 1190.8 L515.9 1191.4 L508.8 1191.7 L501.2 1191.7 L494.0 1191.6 L486.9 1191.4 L480.0 1191.1 L473.3 1190.6 L466.4 1190.1 L459.3 1189.4 L452.1 1188.5 L444.6 1187.5 L437.7 1185.8 L431.4 1183.2 L425.8 1180.0 L420.8 1176.0 L415.8 1171.5 L410.8 1166.6 L405.8 1161.3 L400.8 1155.4 L396.5 1149.8 L393.0 1144.4 L390.2 1139.2 L388.1 1134.2 L386.2 1128.6 L384.6 1122.3 L383.1 1115.5 L381.9 1108.0 L380.6 1100.7 L379.4 1093.6 L378.1 1086.7 L376.9 1080.0 L375.6 1073.2 L374.4 1066.4 L373.1 1059.4 L371.9 1052.3 L370.5 1045.3 L369.1 1038.5 L367.5 1031.7 L365.8 1025.0 L363.9 1018.3 L361.8 1011.7 L359.6 1005.0 L357.1 998.3 L353.9 992.2 L350.2 986.5 L345.8 981.4 L340.8 976.9 L336.2 971.9 L332.1 966.5 L328.3 960.6 L325.0 954.4 L322.1 948.1 L319.6 941.9 L317.5 935.6 L315.8 929.4 L314.2 922.8 L312.8 915.9 L311.4 908.6 L310.2 901.1 L309.2 894.6 L308.6 889.2 L308.3 884.8 Z" stroke="#00f" stroke-width="9.0" stroke-dasharray="28.2 27.3" stroke-dashoffset="7.0"/>
<path d="M373.6 975.5 L373.7 968.0 L374.1 960.7 L374.8 953.6 L375.6 946.7 L376.7 940.0 L378.1 933.5 L379.9 927.3 L382.1 921.3 L384.6 915.4 L386.8 910.0 L388.9 905.0 L390.8 900.4 L392.5 896.3 L393.9 891.0 L395.1 884.8 L396.0 877.5 L396.7 869.2 L396.9 860.4 L396.7 851.3 L396.1 841.7 L394.9 831.7 L394.2 823.0 L393.9 815.5 L393.9 809.2 L394.4 804.2 L395.2 799.0 L396.4 793.6 L398.1 787.9 L400.2 782.1 L402.6 776.4 L405.3 771.0 L408.3 765.8 L411.7 760.8 L414.9 755.8 L418.0 750.8 L421.1 745.8 L423.9 740.8 L426.9 736.6 L429.8 733.3 L432.7 730.8 L435.6 729.2 L442.2 726.8 L452.4 723.7 L466.2 719.8 L483.8 715.2 L504.0 709.6 L526.9 702.9 L552.5 695.2 L580.8 686.4 L603.1 679.3 L619.3 673.9 L629.6 670.2 L633.7 668.1 L638.1 666.1 L642.7 664.1 L647.5 662.3 L652.5 660.4 L658.1 658.5 L664.4 656.6 L671.2 654.6 L678.8 652.4 L686.0 650.5 L693.1 648.8 L700.0 647.3 L706.7 646.0 L716.3 644.9 L728.8 643.9 L744.2 643.1 L762.5 642.6 L779.0 642.5 L793.5 643.1 L806.2 644.2 L817.1 645.8 L827.9 646.8 L838.7 646.9 L849.6 646.4 L860.4 645.2 L869.6 644.7 L877.1 644.9 L882.9 645.8 L887.1 647.5 L891.6 649.2 L896.6 650.8 L902.1 652.5 L907.9 654.2 L914.0 655.6 L920.2 656.8 L926.7 657.7 L933.3 658.3 L939.4 659.1 L944.8 659.9 L949.6 660.8 L953.7 661.8 L959.4 663.6 L966.5 666.2 L975.0 669.6 L985.0 673.7 L994.2 677.7 L1002.5 681.5 L1010.0 685.0 L1016.7 688.3 L1023.2 692.0 L1029.4 696.0 L1035.4 700.3 L1041.3 705.0 L1046.7 709.7 L1051.7 714.5 L1056.3 719.4 L1060.4 724.3 L1064.6 729.4 L1068.8 734.5 L1072.9 739.8 L1077.1 745.2 L1081.0 750.3 L1084.8 755.1 L1088.3 759.6 L1091.7 763.7 L1094.6 767.7 L1097.1 771.4 L1099.2 774.9 L1100.8 778.1 L1102.2 781.6 L1103.3 785.4 L1104.1 789.4 L1104.7 793.6 L1105.0 797.8 L1105.2 801.8 L1105.1 805.6 L1104.9 809.4 L1104.3 813.8 L1103.4 818.8 L1102.2 824.4 L1100.6 830.6 L1099.3 836.8 L1098.3 842.8 L1097.4 848.7 L1096.9 854.6 L1096.5 860.6 L1096.3 866.8 L1096.3 873.3 L1096.4 880.0 L1097.1 887.7 L1098.2 896.5 L1099.8 906.2 L1101.9 917.1 L1104.1 928.3 L1106.4 940.0 L1108.8 952.0 L1111.2 964.5 L1113.3 975.4 L1115.0 984.6 L1116.2 992.1 L1117.1 997.9 L1117.5 1003.1 L1117.5 1007.7 L1117.1 1011.7 L1116.2 1015.0 L1114.9 1019.0 L1113.0 1023.5 L1110.6 1028.7 L1107.7 1034.6 L1104.7 1040.2 L1101.5 1045.6 L1098.3 1050.8 L1095.0 1055.8 L1091.2 1061.2 L1087.1 1067.1 L1082.5 1073.3 L1077.5 1080.0 L1072.5 1086.9 L1067.5 1094.0 L1062.5 1101.2 L1057.5 1108.8 L1053.1 1115.1 L1049.4 1120.3 L1046.2 1124.4 L1043.8 1127.3 L1040.8 1130.0 L1037.5 1132.5 L1033.7 1134.8 L1029.6 1136.9 L1023.5 1139.0 L1015.6 1141.0 L1005.8 1143.1 L994.2 1145.2 L982.7 1147.3 L971.5 1149.4 L960.4 1151.5 L949.6 1153.5 L939.6 1155.5 L930.4 1157.4 L922.0 1159.2 L914.5 1160.8 L907.0 1162.6 L899.5 1164.6 L892.0 1166.8 L884.5 1169.2 L877.0 1171.1 L869.5 1172.5 L862.0 1173.6 L854.5 1174.1 L845.6 1174.6 L835.2 1174.9 L823.3 1175.0 L810.0 1175.0 L797.1 1175.2 L784.6 1175.6 L772.5 1176.2 L760.8 1177.1 L750.0 1177.9 L740.0 1178.8 L730.8 1179.8 L722.5 1180.8 L714.6 1181.5 L707.1 1182.0 L700.0 1182.3 L693.3 1182.3 L686.2 1182.0 L678.7 1181.5 L670.8 1180.8 L662.5 1179.8 L653.1 1178.5 L642.7 1177.0 L631.2 1175.2 L618.8 1173.1 L606.2 1171.3 L593.8 1169.8 L581.2 1168.5 L568.8 1167.5 L556.5 1166.6 L544.4 1165.9 L532.5 1165.2 L520.8 1164.8 L510.2 1164.2 L500.6 1163.7 L492.1 1163.1 L484.6 1162.6 L477.7 1162.3 L471.4 1162.3 L465.8 1162.6 L460.8 1163.1 L456.0 1163.8 L451.3 1164.7 L446.8 1165.6 L442.5 1166.7 L438.3 1166.3 L434.4 1164.6 L430.6 1161.4 L427.1 1156.9 L423.6 1152.2 L420.4 1147.4 L417.3 1142.5 L414.4 1137.5 L411.4 1131.7 L408.2 1125.0 L405.0 1117.5 L401.7 1109.2 L398.6 1100.9 L395.7 1092.5 L392.9 1084.2 L390.4 1075.8 L388.0 1067.1 L385.8 1057.9 L383.6 1048.3 L381.4 1038.3 L379.6 1028.5 L377.9 1018.9 L376.4 1009.6 L375.2 1000.4 L374.3 991.7 L373.7 983.4 L373.6 975.5 Z" stroke="#00f" stroke-width="12.5"/>
<path d="M286.7 763.3 L305.0 740.0 L330.0 686.7 L350.0 653.3 L363.3 634.0 L390.0 615.0 L433.3 573.3 L468.3 555.0 L485.0 516.7 L491.7 490.0 L503.3 456.7 L516.7 423.3 L530.0 380.0 L543.5 341.0 L546.5 318.0 L539.0 254.0 L538.5 212.0 L511.7 153.3 L497.5 108.5 L452.2 122.9 L467.3 170.4 L491.1 222.6 L491.5 257.1 L498.6 317.7 L497.0 330.0 L484.8 365.3 L471.9 407.5 L458.8 440.0 L446.1 476.4 L439.9 501.3 L431.5 520.7 L405.3 534.4 L359.6 578.3 L328.9 600.2 L310.0 627.6 L288.0 664.4 L264.3 714.9 L253.5 728.7 L253.5 748.1 L275.0 773.3 Z" fill="url(#hm)" fill-rule="evenodd" stroke="none"/>
<path d="M651.7 108.5 L698.3 170.0 L724.0 191.0 L738.3 200.5 L744.0 206.0 L747.0 214.0 L748.3 236.7 L749.0 263.3 L758.3 316.7 L750.0 346.7 L716.7 418.3 L693.3 450.0 L655.0 490.0 L641.7 501.7 L626.7 523.3 L613.3 550.0 L600.0 568.3 L585.0 591.7 L560.0 615.0 L545.0 636.7 L530.0 658.3 L510.0 676.7 L488.3 696.7 L466.7 713.3 L443.3 730.0 L425.0 750.0 L406.7 773.3 L391.7 795.0 L373.3 816.7 L353.3 835.0 L340.0 858.3 L321.7 886.7 L301.7 901.7 L277.0 916.0" stroke="#f0f" stroke-width="9.0" stroke-dasharray="28.2 27.3" stroke-dashoffset="0.0"/>
<path d="M497.5 108.5 L511.7 153.3 L538.5 212.0 L539.0 254.0 L546.5 318.0 L543.5 341.0 L530.0 380.0 L516.7 423.3 L503.3 456.7 L491.7 490.0 L485.0 516.7 L468.3 555.0 L433.3 573.3 L390.0 615.0 L363.3 634.0 L350.0 653.3 L330.0 686.7 L305.0 740.0 L286.7 763.3 L275.0 773.3" stroke="#f0f" stroke-width="12.5"/>
<path d="M900.0 1206.7 L891.7 1173.3 L885.0 1123.3 L880.0 1063.3 L876.0 990.0 L876.0 890.0 L876.7 600.0 L876.7 109.2 L829.2 109.2 L829.2 599.9 L828.5 889.9 L828.5 991.3 L832.6 1066.6 L837.8 1128.4 L845.0 1182.2 L853.8 1217.8 L863.7 1260.7 L910.0 1250.0 Z" fill="url(#hk)" fill-rule="evenodd" stroke="none"/>
<path d="M992.7 690.0 L991.7 890.0 L990.7 956.7 L987.3 1023.3 L985.0 1073.3 L986.7 1123.3 L985.0 1173.3 L980.0 1200.0 L970.0 1220.0 L960.0 1250.0 L1005.1 1265.0 L1014.0 1238.2 L1025.5 1215.3 L1032.4 1178.5 L1034.2 1123.3 L1032.5 1073.6 L1034.7 1025.6 L1038.2 958.3 L1039.2 890.5 L1040.2 690.2 L1041.0 109.3 L993.5 109.2 Z" fill="url(#hk)" fill-rule="evenodd" stroke="none"/>
<path d="M1111.7 1213.3 L1096.7 1183.3 L1086.7 1156.7 L1081.7 1123.0 L1081.7 990.0 L1083.6 890.0 L1087.0 790.0 L1087.0 109.2 L1039.5 109.2 L1039.5 789.2 L1036.1 888.7 L1034.2 989.5 L1034.2 1126.5 L1040.5 1168.7 L1053.1 1202.3 L1068.8 1233.7 L1083.4 1266.0 L1092.9 1266.0 L1128.3 1250.0 Z" fill="url(#hk)" fill-rule="evenodd" stroke="none"/>
<path d="M1081.0 109.2 L1080.5 500.0 L1079.0 800.0 L1079.5 1000.0" stroke="#000" stroke-width="9.0" stroke-dasharray="28.2 27.3" stroke-dashoffset="0.0"/>
<path d="M1086.0 1026.7 L1095.0 1053.3 L1101.7 1081.7 L1111.7 1106.7 L1120.0 1135.0 L1133.3 1156.7 L1151.7 1180.0 L1168.3 1201.7 L1181.7 1225.0 L1196.7 1248.3" stroke="#000" stroke-width="9.0" stroke-dasharray="28.2 27.3" stroke-dashoffset="0.0"/>
<path d="M876.7 109.2 L876.7 231.9 L876.7 477.3 L876.5 672.5 L876.2 817.5 L876.0 915.0 L876.0 965.0 L877.0 1008.3 L879.0 1045.0 L881.2 1078.3 L883.8 1108.3 L886.7 1135.8 L890.0 1160.8 L893.8 1181.6 L897.9 1198.4 L902.5 1217.5 L907.5 1239.2 L910.0 1250.0" stroke="#000" stroke-width="12.5"/>
<path d="M993.5 109.2 L993.3 254.4 L992.9 544.8 L992.5 740.0 L992.0 840.0 L991.5 906.7 L991.0 940.0 L989.9 973.4 L988.1 1006.6 L986.7 1035.8 L985.6 1060.8 L985.4 1085.8 L986.3 1110.8 L986.3 1135.8 L985.4 1160.8 L983.8 1180.0 L981.2 1193.3 L977.5 1205.0 L972.5 1215.0 L967.5 1227.5 L962.5 1242.5 L960.0 1250.0" stroke="#000" stroke-width="12.5"/>
<path d="M1087.0 109.2 L1087.0 279.4 L1087.0 619.8 L1086.2 815.0 L1084.4 865.0 L1083.1 915.0 L1082.2 965.0 L1081.7 1023.2 L1081.7 1089.8 L1083.0 1131.4 L1085.5 1148.3 L1089.2 1163.4 L1094.2 1176.6 L1100.5 1190.8 L1108.0 1205.8 L1115.9 1222.5 L1124.1 1240.8 L1128.3 1250.0" stroke="#000" stroke-width="12.5"/>
</g>
<g stroke="#000" stroke-width="5.2" fill="none" stroke-linecap="butt">
<rect x="253.5" y="95.5" width="1597.7" height="1170.5"/>
<path d="M297.9 95.5 v16.0 M297.9 1266.0 v-16.0 M386.6 95.5 v16.0 M386.6 1266.0 v-16.0 M475.4 95.5 v33.0 M475.4 1266.0 v-33.0 M564.2 95.5 v16.0 M564.2 1266.0 v-16.0 M652.9 95.5 v16.0 M652.9 1266.0 v-16.0 M741.7 95.5 v16.0 M741.7 1266.0 v-16.0 M830.4 95.5 v16.0 M830.4 1266.0 v-16.0 M919.2 95.5 v33.0 M919.2 1266.0 v-33.0 M1008.0 95.5 v16.0 M1008.0 1266.0 v-16.0 M1096.7 95.5 v16.0 M1096.7 1266.0 v-16.0 M1185.5 95.5 v16.0 M1185.5 1266.0 v-16.0 M1274.3 95.5 v16.0 M1274.3 1266.0 v-16.0 M1363.0 95.5 v33.0 M1363.0 1266.0 v-33.0 M1451.8 95.5 v16.0 M1451.8 1266.0 v-16.0 M1540.5 95.5 v16.0 M1540.5 1266.0 v-16.0 M1629.3 95.5 v16.0 M1629.3 1266.0 v-16.0 M1718.1 95.5 v16.0 M1718.1 1266.0 v-16.0 M1806.8 95.5 v33.0 M1806.8 1266.0 v-33.0 M253.5 1242.6 h17.0 M1851.2 1242.6 h-17.0 M253.5 1219.2 h17.0 M1851.2 1219.2 h-17.0 M253.5 1195.8 h17.0 M1851.2 1195.8 h-17.0 M253.5 1172.4 h17.0 M1851.2 1172.4 h-17.0 M253.5 1149.0 h33.0 M1851.2 1149.0 h-33.0 M253.5 1125.5 h17.0 M1851.2 1125.5 h-17.0 M253.5 1102.1 h17.0 M1851.2 1102.1 h-17.0 M253.5 1078.7 h17.0 M1851.2 1078.7 h-17.0 M253.5 1055.3 h17.0 M1851.2 1055.3 h-17.0 M253.5 1031.9 h33.0 M1851.2 1031.9 h-33.0 M253.5 1008.5 h17.0 M1851.2 1008.5 h-17.0 M253.5 985.1 h17.0 M1851.2 985.1 h-17.0 M253.5 961.7 h17.0 M1851.2 961.7 h-17.0 M253.5 938.3 h17.0 M1851.2 938.3 h-17.0 M253.5 914.9 h33.0 M1851.2 914.9 h-33.0 M253.5 891.4 h17.0 M1851.2 891.4 h-17.0 M253.5 868.0 h17.0 M1851.2 868.0 h-17.0 M253.5 844.6 h17.0 M1851.2 844.6 h-17.0 M253.5 821.2 h17.0 M1851.2 821.2 h-17.0 M253.5 797.8 h33.0 M1851.2 797.8 h-33.0 M253.5 774.4 h17.0 M1851.2 774.4 h-17.0 M253.5 751.0 h17.0 M1851.2 751.0 h-17.0 M253.5 727.6 h17.0 M1851.2 727.6 h-17.0 M253.5 704.2 h17.0 M1851.2 704.2 h-17.0 M253.5 680.8 h33.0 M1851.2 680.8 h-33.0 M253.5 657.3 h17.0 M1851.2 657.3 h-17.0 M253.5 633.9 h17.0 M1851.2 633.9 h-17.0 M253.5 610.5 h17.0 M1851.2 610.5 h-17.0 M253.5 587.1 h17.0 M1851.2 587.1 h-17.0 M253.5 563.7 h33.0 M1851.2 563.7 h-33.0 M253.5 540.3 h17.0 M1851.2 540.3 h-17.0 M253.5 516.9 h17.0 M1851.2 516.9 h-17.0 M253.5 493.5 h17.0 M1851.2 493.5 h-17.0 M253.5 470.1 h17.0 M1851.2 470.1 h-17.0 M253.5 446.6 h33.0 M1851.2 446.6 h-33.0 M253.5 423.2 h17.0 M1851.2 423.2 h-17.0 M253.5 399.8 h17.0 M1851.2 399.8 h-17.0 M253.5 376.4 h17.0 M1851.2 376.4 h-17.0 M253.5 353.0 h17.0 M1851.2 353.0 h-17.0 M253.5 329.6 h33.0 M1851.2 329.6 h-33.0 M253.5 306.2 h17.0 M1851.2 306.2 h-17.0 M253.5 282.8 h17.0 M1851.2 282.8 h-17.0 M253.5 259.4 h17.0 M1851.2 259.4 h-17.0 M253.5 236.0 h17.0 M1851.2 236.0 h-17.0 M253.5 212.5 h33.0 M1851.2 212.5 h-33.0 M253.5 189.1 h17.0 M1851.2 189.1 h-17.0 M253.5 165.7 h17.0 M1851.2 165.7 h-17.0 M253.5 142.3 h17.0 M1851.2 142.3 h-17.0 M253.5 118.9 h17.0 M1851.2 118.9 h-17.0 "/>
</g>
<text class="b" x="252.5" y="73.5" font-size="84">CMS</text>
<text x="1850.5" y="74" font-size="63.4" text-anchor="end">138 fb<tspan font-size="40" dy="-29">-1</tspan><tspan dy="29"> (13 TeV)</tspan></text>
<text x="242" y="1292.5" font-size="70" text-anchor="end">0</text>
<text x="243.3" y="1175.5" font-size="70" text-anchor="end">0.1</text>
<text x="243.3" y="1058.4" font-size="70" text-anchor="end">0.2</text>
<text x="243.3" y="941.4" font-size="70" text-anchor="end">0.3</text>
<text x="243.3" y="824.3" font-size="70" text-anchor="end">0.4</text>
<text x="243.3" y="707.2" font-size="70" text-anchor="end">0.5</text>
<text x="243.3" y="590.2" font-size="70" text-anchor="end">0.6</text>
<text x="243.3" y="473.2" font-size="70" text-anchor="end">0.7</text>
<text x="243.3" y="356.1" font-size="70" text-anchor="end">0.8</text>
<text x="243.3" y="239.0" font-size="70" text-anchor="end">0.9</text>
<text x="241" y="122.0" font-size="70" text-anchor="end">1</text>
<text x="475.4" y="1338" font-size="70" text-anchor="middle">2</text>
<text x="919.2" y="1338" font-size="70" text-anchor="middle">3</text>
<text x="1363.0" y="1338" font-size="70" text-anchor="middle">4</text>
<text x="1806.8" y="1338" font-size="70" text-anchor="middle">5</text>
<text transform="translate(54.3,190.8) rotate(-90)" font-size="78.5">r<tspan font-size="52" dy="24">inv</tspan></text>
<text x="1540" y="1437" font-size="80">m</text><text x="1601.5" y="1459.7" font-size="51">Z'</text><text x="1856" y="1437" font-size="80" text-anchor="end">[TeV]</text>
<text x="1877.0" y="140.7" font-size="50.5">95% CL upper limits</text>
<text x="1879.0" y="255.4" font-size="50.5">m</text>
<text x="1917.0" y="270.7" font-size="32">dark</text>
<text x="1996.0" y="255.4" font-size="50.5">= 20 GeV,</text>
<text class="sy" transform="translate(2237,255.4) scale(1.2,1.05)" font-size="52">α</text>
<text x="2268.0" y="270.7" font-size="32">dark</text>
<text x="2346.0" y="255.4" font-size="50.5">=</text>
<text class="sy" transform="translate(2391,255.4) scale(1.2,1.05)" font-size="52">α</text>
<text x="2422.0" y="231.0" font-size="32">peak</text>
<text x="2422.0" y="271.5" font-size="32">dark</text>
<text x="2494.0" y="255.4" font-size="50.5">,</text>
<text x="2522.0" y="255.4" font-size="50.5">g</text>
<text x="2548.5" y="280.4" font-size="32">q</text>
<text x="2581.0" y="255.4" font-size="50.5">= 0.25,</text>
<text x="2751.0" y="255.4" font-size="50.5">g</text>
<text x="2777.5" y="280.4" font-size="32">q</text>
<text x="2796.0" y="300.0" font-size="21">dark</text>
<text x="2852.0" y="255.4" font-size="50.5">= 0.5</text>
<text x="1997.0" y="401.7" font-size="50.5">Observed</text>
<text x="1997.0" y="521.0" font-size="50.5">Expected</text>
<text x="1997.0" y="620.0" font-size="50.5" class="b">Dijet</text>
<text x="1997.0" y="682.7" font-size="50.5">JHEP 05 (2020) 033</text>
<text x="1997.0" y="746.5" font-size="50.5" class="b">Monojet</text>
<text x="1997.0" y="810.0" font-size="50.5">JHEP 11 (2021) 153</text>
<text x="1997" y="878" font-size="50.5"><tspan class="b" font-size="50.5">Semivisible jet</tspan> (inclusive)</text>
<text x="1997.0" y="938.3" font-size="50.5">JHEP 06 (2022) 156</text>
<text x="1997" y="1006" font-size="50.5"><tspan class="b" font-size="50.5">Semivisible jet</tspan> (BDT-based, model-dependent)</text>
<text x="1997.0" y="1066.7" font-size="50.5">JHEP 06 (2022) 156</text>
<rect x="1884.0" y="387" width="93.3" height="40" fill="url(#hk)"/>
<g fill="none" stroke-width="12.5">
<path d="M1884.0 381.5 H1977.3" stroke="#000"/>
<path d="M1884.0 510 H1977.3" stroke="#000" stroke-width="9.5" stroke-dasharray="28.3 27"/>
<path d="M1884.0 638 H1977.3" stroke="#000"/>
<path d="M1884.0 766.2 H1977.3" stroke="#f0f"/>
<path d="M1884.0 894.7 H1977.3" stroke="#00f"/>
<path d="M1884.0 1023 H1977.3" stroke="#f00"/>
</g>
</svg></body></html>
